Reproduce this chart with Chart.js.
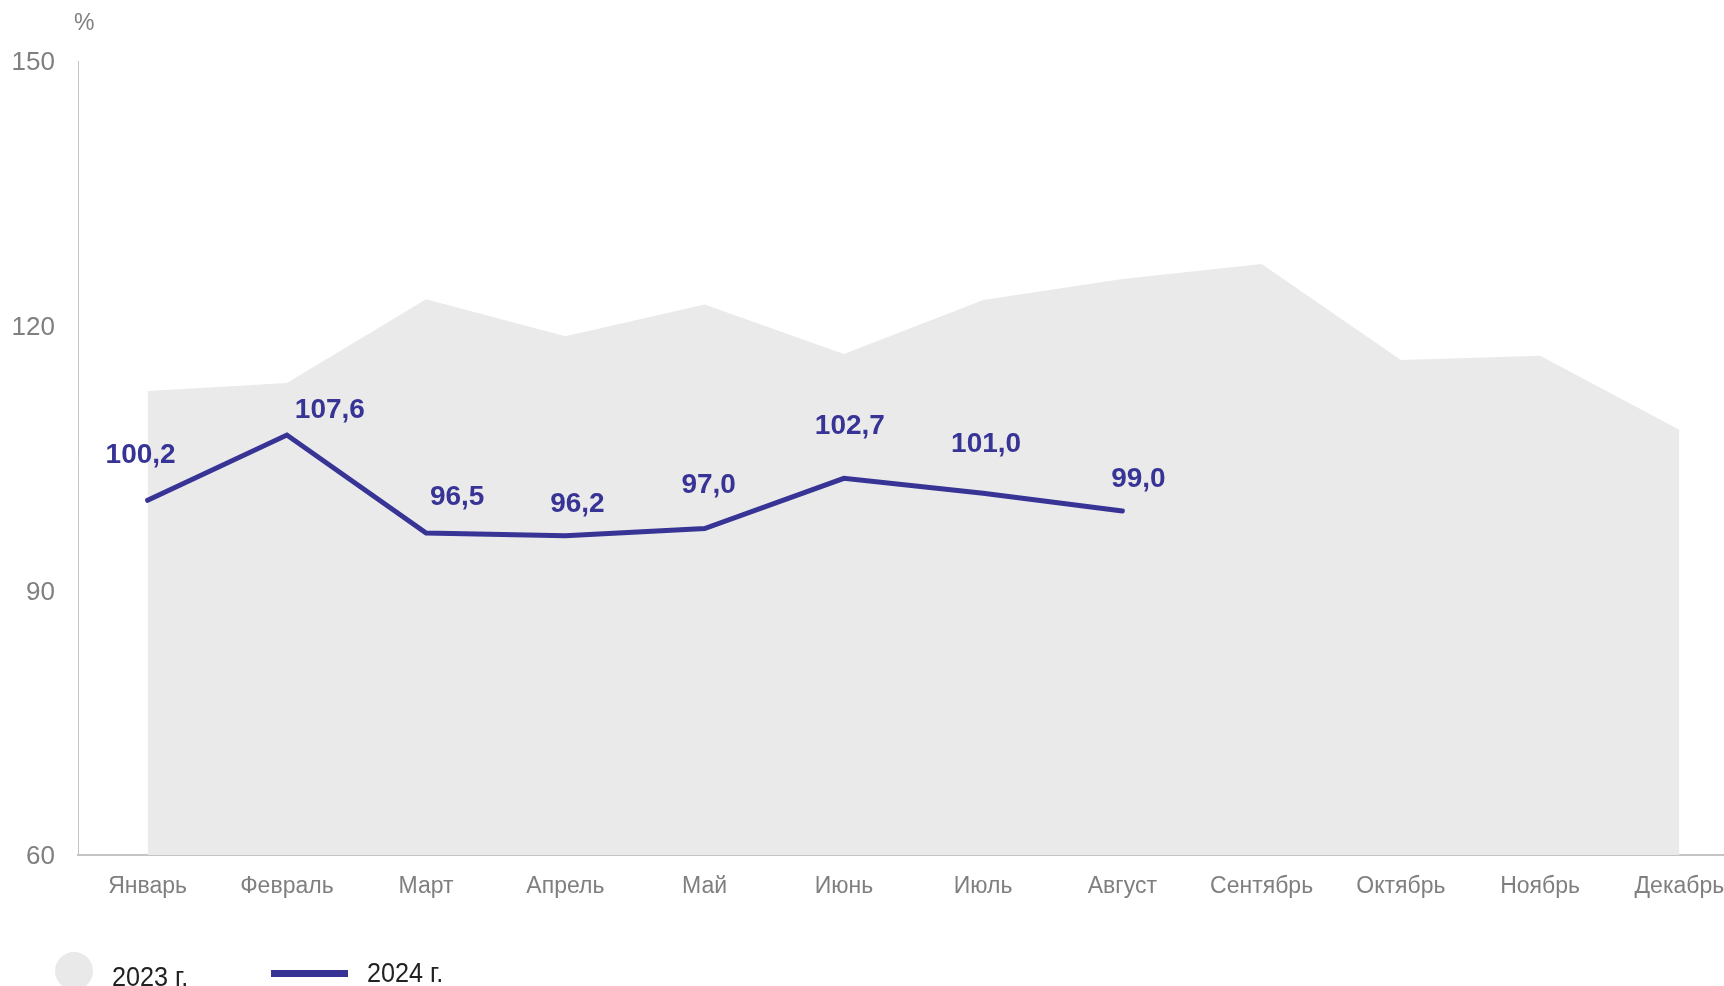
<!DOCTYPE html>
<html>
<head>
<meta charset="utf-8">
<script src="https://cdn.jsdelivr.net/npm/chart.js@4/dist/chart.umd.min.js"></script>
<style>
  html, body { margin: 0; padding: 0; background: #fff; overflow: hidden; width: 1724px; height: 986px; }
  #wrap { position: absolute; left: 0; top: 0; width: 1749px; height: 986px; }
  .txt { position: absolute; font-family: "Liberation Sans", Arial, sans-serif; white-space: nowrap; }
  .leg { transform: scaleX(0.9); transform-origin: 0 50%; }
</style>
</head>
<body>
<div id="wrap"><canvas id="c" width="1749" height="986"></canvas></div>
<div class="txt" style="left:74px; top:11px; font-size:23px; line-height:23px; color:#7f7f7f;">%</div>
<div style="position:absolute; left:55px; top:952px; width:38px; height:38px; border-radius:50%; background:#e9e9e9;"></div>
<div class="txt leg" style="left:112px; top:963px; font-size:28px; line-height:28px; color:#222;">2023 г.</div>
<div style="position:absolute; left:271px; top:970px; width:77px; height:7px; background:#373496;"></div>
<div class="txt leg" style="left:367px; top:959px; font-size:28px; line-height:28px; color:#222;">2024 г.</div>
<script>
const months = ['Январь', 'Февраль', 'Март', 'Апрель', 'Май', 'Июнь', 'Июль', 'Август', 'Сентябрь', 'Октябрь', 'Ноябрь', 'Декабрь'];
const values2023 = [112.6, 113.5, 123.0, 118.8, 122.4, 116.8, 122.9, 125.3, 127.0, 116.1, 116.6, 108.2];
const values2024 = [100.2, 107.6, 96.5, 96.2, 97.0, 102.7, 101.0, 99.0];
const yTicks = [60, 90, 120, 150];

// label placement (style): offset of each value label from its point, px
const labelOffsets = [[-7, -45], [43, -25], [31, -36], [12, -31], [4, -43], [6, -52], [3, -49], [16, -32]];

const FONT = '"Liberation Sans", Arial, sans-serif';
const LINE_COLOR = '#373496';

const valueLabels = {
  id: 'valueLabels',
  afterDatasetsDraw(chart) {
    const meta = chart.getDatasetMeta(0);
    const ctx = chart.ctx;
    ctx.save();
    ctx.font = 'bold 28px ' + FONT;
    ctx.fillStyle = LINE_COLOR;
    ctx.textAlign = 'center';
    ctx.textBaseline = 'middle';
    meta.data.forEach((pt, i) => {
      const v = values2024[i];
      const off = labelOffsets[i] || [0, -40];
      ctx.fillText(v.toFixed(1).replace('.', ','), pt.x + off[0], pt.y + off[1]);
    });
    ctx.restore();
  }
};

new Chart(document.getElementById('c'), {
  type: 'line',
  data: {
    labels: months,
    datasets: [
      {
        label: '2024 г.',
        data: values2024,
        borderColor: LINE_COLOR,
        backgroundColor: LINE_COLOR,
        borderWidth: 5,
        borderCapStyle: 'round',
        borderJoinStyle: 'miter',
        pointRadius: 0,
        fill: false,
        tension: 0,
        order: 1
      },
      {
        label: '2023 г.',
        data: values2023,
        borderWidth: 0,
        borderColor: 'rgba(0,0,0,0)',
        backgroundColor: '#eaeaea',
        pointRadius: 0,
        fill: 'start',
        tension: 0,
        order: 2
      }
    ]
  },
  options: {
    responsive: false,
    animation: false,
    layout: { padding: { top: 61, bottom: 71, left: 0, right: 0 } },
    plugins: { legend: { display: false }, tooltip: { enabled: false } },
    scales: {
      x: {
        offset: true,
        grid: { display: false, drawTicks: false },
        border: { display: true, color: '#c4c4c4', width: 2 },
        ticks: { color: '#7f7f7f', font: { family: FONT, size: 23 }, padding: 18, maxRotation: 0, autoSkip: false },
        afterFit(scale) { scale.height = 60; }
      },
      y: {
        min: 60,
        max: 150,
        grid: { display: false, drawTicks: false },
        border: { display: true, color: '#c4c4c4', width: 1 },
        ticks: { color: '#7f7f7f', font: { family: FONT, size: 26 }, padding: 23, labelOffset: 2 },
        afterBuildTicks(scale) { scale.ticks = yTicks.map(v => ({ value: v })); },
        afterFit(scale) { scale.width = 78; }
      }
    }
  },
  plugins: [valueLabels]
});
</script>
</body>
</html>
